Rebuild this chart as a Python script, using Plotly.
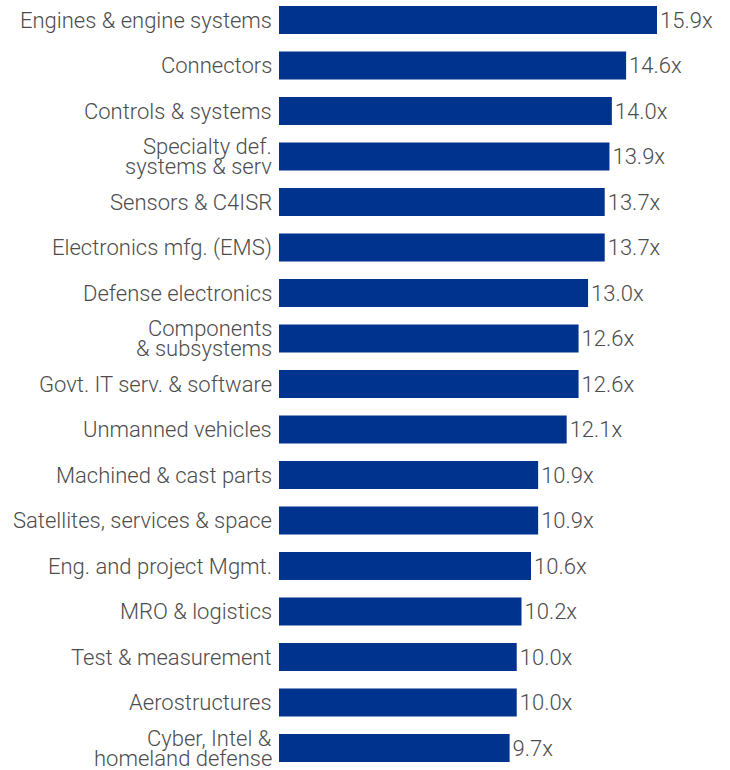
import plotly.graph_objects as go

# Sector valuation multiples (EV/EBITDA), highest first
sectors = [
    "Engines & engine systems",
    "Connectors",
    "Controls & systems",
    "Specialty def.<br>systems & serv",
    "Sensors & C4ISR",
    "Electronics mfg. (EMS)",
    "Defense electronics",
    "Components<br>& subsystems",
    "Govt. IT serv. & software",
    "Unmanned vehicles",
    "Machined & cast parts",
    "Satellites, services & space",
    "Eng. and project Mgmt.",
    "MRO & logistics",
    "Test & measurement",
    "Aerostructures",
    "Cyber, Intel &<br>homeland defense",
]
multiples = [15.9, 14.6, 14.0, 13.9, 13.7, 13.7, 13.0, 12.6, 12.6, 12.1,
             10.9, 10.9, 10.6, 10.2, 10.0, 10.0, 9.7]

BAR_BLUE = "#00338D"
TEXT_GREY = "#4d4d4d"
FONT = "Roboto"
FONT_SIZE = 22
# vertical offsets (px, up is positive) for the two lines of a wrapped label
TWO_LINE_SHIFTS = [10, -10]

positions = list(range(len(sectors)))

fig = go.Figure(
    go.Bar(
        x=multiples,
        y=positions,
        orientation="h",
        marker=dict(color=BAR_BLUE, line=dict(width=0)),
        width=0.61,
        text=[f"{v:.1f}x" for v in multiples],
        textposition="outside",
        cliponaxis=False,
        textfont=dict(family=FONT, size=FONT_SIZE, color=TEXT_GREY, weight=300),
        hoverinfo="skip",
    )
)

# Category labels, right-aligned against the bars; two-line labels are
# stacked line by line so the spacing stays tight.
annotations = []
for pos, label in zip(positions, sectors):
    lines = label.split("<br>")
    shifts = [0] if len(lines) == 1 else TWO_LINE_SHIFTS
    for line, shift in zip(lines, shifts):
        annotations.append(dict(
            x=0, y=pos, xref="x", yref="y",
            text=line, showarrow=False,
            xanchor="right", yanchor="middle",
            xshift=-6, yshift=shift,
            borderpad=0,
            font=dict(family=FONT, size=FONT_SIZE, color=TEXT_GREY, weight=300),
        ))

fig.update_layout(
    width=730,
    height=770,
    margin=dict(l=279, r=0, t=0, b=0),
    paper_bgcolor="white",
    plot_bgcolor="white",
    showlegend=False,
    font=dict(family=FONT, size=FONT_SIZE, color=TEXT_GREY, weight=300),
    annotations=annotations,
)
fig.update_xaxes(range=[0, 18.97], visible=False)
fig.update_yaxes(
    range=[16.4835, -0.4396],
    showticklabels=False,
    showgrid=False,
    zeroline=False,
    showline=False,
    ticks="",
)

fig.write_html("out.html")
